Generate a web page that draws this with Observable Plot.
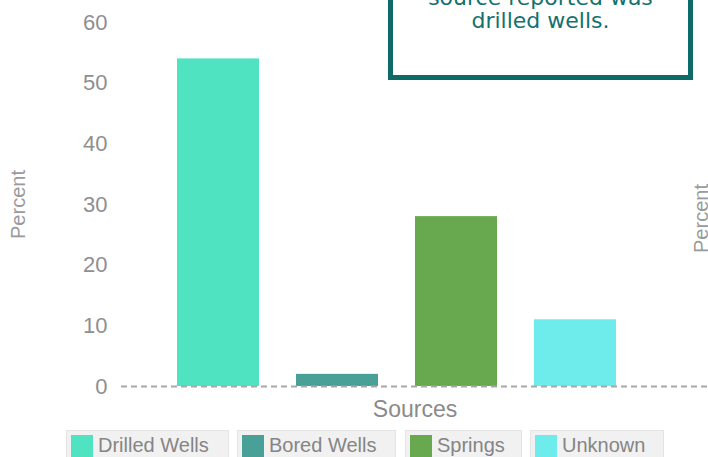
<!DOCTYPE html>
<html>
<head>
<meta charset="utf-8">
<script src="https://cdn.jsdelivr.net/npm/d3@7"></script>
<script src="https://cdn.jsdelivr.net/npm/@observablehq/plot@0.6"></script>
<style>
  html, body { margin: 0; padding: 0; background: #fff; }
  #wrap { position: relative; width: 708px; height: 457px; overflow: hidden; font-family: "Liberation Sans", Arial, sans-serif; }
  #chart { position: absolute; left: 0; top: 0; }
  #note { position: absolute; left: 388px; top: -60px; width: 295px; height: 130px; border: 5px solid #0e6969; background: #fff;
          color: #137170; font-family: "DejaVu Sans", sans-serif; font-size: 22px; line-height: 23px; text-align: center;
          box-sizing: content-box; }
  #note .inner { position: absolute; left: 0; right: 0; top: 41px; }
  #legend { position: absolute; top: 430px; left: 0; height: 30px; }
  .item { position: absolute; top: 0; height: 30px; background: #f1f1f1; border: 1px solid #e4e4e4; box-sizing: border-box; }
  .sw { position: absolute; left: 4px; top: 4px; width: 22px; height: 22px; }
  .lab { position: absolute; left: 31px; top: 3px; font-size: 20px; color: #858585; white-space: nowrap; }
</style>
</head>
<body>
<div id="wrap">
  <div id="chart"></div>
  <div id="note"><div class="inner">source reported was<br>drilled wells.</div></div>
  <div id="legend"></div>
</div>
<script>
const categories = ["Drilled Wells", "Bored Wells", "Springs", "Unknown"];
const percents = [54, 2, 28, 11];
const colors = ["#50e3c2", "#48a097", "#68a84e", "#6eecec"];
const yTicks = [0, 10, 20, 30, 40, 50, 60];
const legendBoxes = [[66, 229], [237, 396], [405, 522], [530, 664]];

const data = categories.map((c, i) => ({source: c, pct: percents[i]}));

const chart = Plot.plot({
  width: 708,
  height: 425,
  marginLeft: 121,
  marginRight: 0,
  marginTop: 22,
  marginBottom: 39,
  style: {fontFamily: "'Liberation Sans', Arial, sans-serif", background: "transparent"},
  x: {domain: categories, range: [140, 653], padding: 0.31, axis: null},
  y: {domain: [0, 60], axis: null},
  color: {domain: categories, range: colors},
  marks: [
    Plot.barY(data, {x: "source", y: "pct", fill: "source"}),
    Plot.ruleY([0], {stroke: "#a8a8a8", strokeWidth: 2, strokeDasharray: "6,4"}),
    Plot.axisY({ticks: yTicks, tickSize: 0, tickPadding: 14, label: null, fontSize: 22, color: "#8f8f8f"}),
    Plot.text(["Sources"], {frameAnchor: "bottom", dy: 30, fontSize: 23, fill: "#8a8a8a"}),
    Plot.text(["Percent"], {frameAnchor: "left", dx: -103, rotate: -90, textAnchor: "middle", fontSize: 20, fill: "#9a9a9a"}),
    Plot.text(["Percent"], {frameAnchor: "right", dx: -7, dy: 14, rotate: -90, textAnchor: "middle", fontSize: 20, fill: "#9a9a9a"})
  ]
});
document.getElementById("chart").appendChild(chart);

const legend = document.getElementById("legend");
categories.forEach((c, i) => {
  const it = document.createElement("div");
  it.className = "item";
  it.style.left = legendBoxes[i][0] + "px";
  it.style.width = (legendBoxes[i][1] - legendBoxes[i][0]) + "px";
  const sw = document.createElement("div");
  sw.className = "sw";
  sw.style.background = colors[i];
  const lab = document.createElement("div");
  lab.className = "lab";
  lab.textContent = c;
  it.appendChild(sw);
  it.appendChild(lab);
  legend.appendChild(it);
});
</script>
</body>
</html>
